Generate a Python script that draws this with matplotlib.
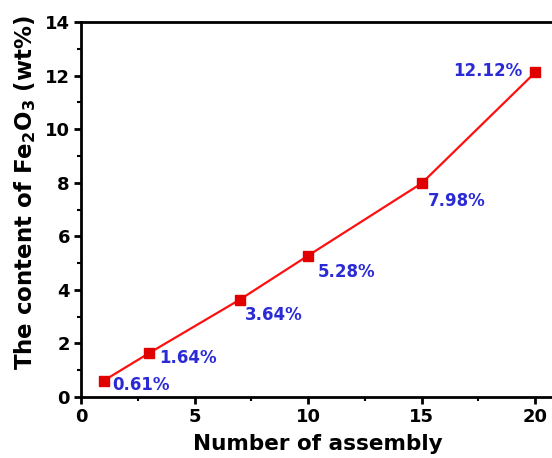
import matplotlib
matplotlib.use("Agg")
import matplotlib.pyplot as plt
from matplotlib.ticker import MultipleLocator

plt.rcParams['font.family'] = ['DejaVu Sans']
plt.rcParams['font.weight'] = 'bold'
plt.rcParams['mathtext.default'] = 'bf'

assembly = [1, 3, 7, 10, 15, 20]
content = [0.61, 1.64, 3.64, 5.28, 7.98, 12.12]
labels = ["0.61%", "1.64%", "3.64%", "5.28%", "7.98%", "12.12%"]
offsets = [(9, -4), (10, -5), (5, -16), (10, -16), (6, -18), (-13, 1)]
has = ['left', 'left', 'left', 'left', 'left', 'right']

fig = plt.figure(figsize=(5.52, 4.58), dpi=100)
ax = fig.add_axes([81/552, 1-397/458, 477/552, 375/458])
ax.plot(assembly, content, color='#ff1010', lw=1.6, marker='s', ms=7,
        mfc='#e00000', mec='#e00000')
for x, y, t, off, ha in zip(assembly, content, labels, offsets, has):
    ax.annotate(t, (x, y), xytext=off, textcoords='offset pixels', ha=ha, va='center',
                color='#2b2bd6', fontsize=12, fontweight='bold')

ax.set_xlim(0, 21)
ax.set_ylim(0, 14)
ax.xaxis.set_major_locator(MultipleLocator(5))
ax.xaxis.set_minor_locator(MultipleLocator(2.5))
ax.yaxis.set_major_locator(MultipleLocator(2))
ax.yaxis.set_minor_locator(MultipleLocator(1))
for s in ax.spines.values():
    s.set_linewidth(2)
ax.tick_params(which='major', direction='out', length=5, width=2, labelsize=13, pad=3)
ax.tick_params(which='minor', direction='out', length=3, width=1.5)
ax.set_xlabel("Number of assembly", fontsize=15.5, fontweight='bold')
ax.set_ylabel(r"The content of Fe$_\mathbf{2}$O$_\mathbf{3}$ (wt%)", fontsize=16.5, fontweight='bold')
ax.xaxis.set_label_coords(0.497, -0.10)
ax.yaxis.set_label_coords(-0.09, 0.545)
fig.savefig("out.png", dpi=100)
